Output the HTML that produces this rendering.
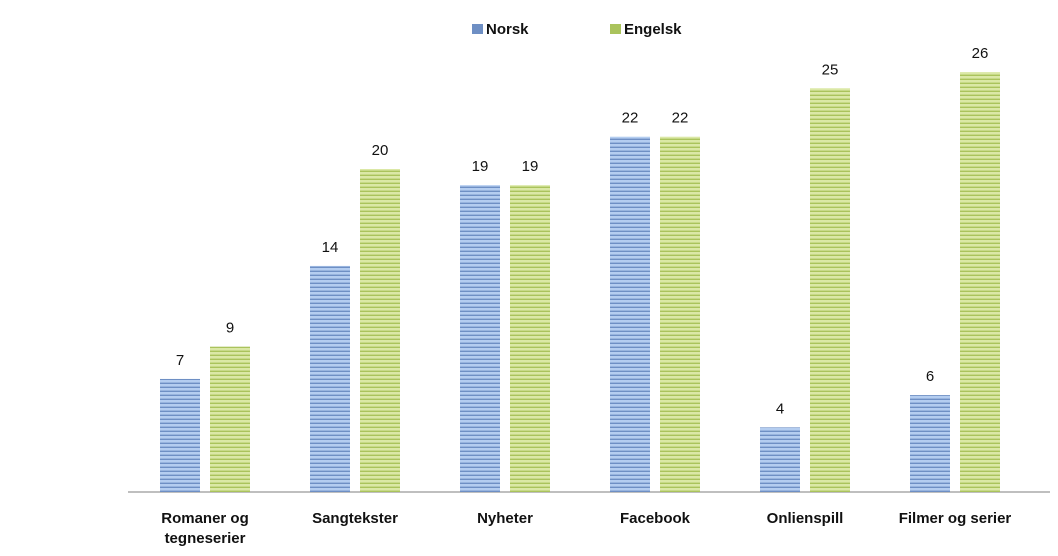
<!DOCTYPE html>
<html><head><meta charset="utf-8"><style>
body{margin:0;background:#fff;font-family:"Liberation Sans",sans-serif;}
svg text{font-family:"Liberation Sans",sans-serif;fill:#111;}
</style></head><body>
<svg width="1058" height="551" xmlns="http://www.w3.org/2000/svg">
<defs>
<pattern id="pb" width="4" height="4" patternUnits="userSpaceOnUse"><rect width="4" height="4" fill="#b4cdf0"/><rect y="2.6" width="4" height="1.4" fill="#6e8fc4"/></pattern>
<pattern id="pg" width="4" height="4" patternUnits="userSpaceOnUse"><rect width="4" height="4" fill="#dbe8a6"/><rect y="2.6" width="4" height="1.4" fill="#aac35c"/></pattern>
</defs>
<g>
<rect x="472" y="24" width="11" height="10" fill="#6e8fc4"/>
<text x="486" y="34" font-size="15" font-weight="bold">Norsk</text>
<rect x="610" y="24" width="11" height="10" fill="#aac35c"/>
<text x="624" y="34" font-size="15" font-weight="bold">Engelsk</text>
</g>
<line x1="128" y1="492" x2="1050" y2="492" stroke="#aaa" stroke-width="1.5"/>
<g id="bars"></g>
</svg>
<script>
const categories=[["Romaner og","tegneserier"],["Sangtekster"],["Nyheter"],["Facebook"],["Onlienspill"],["Filmer og serier"]];
const norsk=[7,14,19,22,4,6];
const engelsk=[9,20,19,22,25,26];
const NS="http://www.w3.org/2000/svg";
const g=document.getElementById('bars');
const base=492, unit=16.15;
const y=v=>base-v*unit;
const cx=i=>205+i*150;
function mk(tag,attrs){const e=document.createElementNS(NS,tag);for(const k in attrs)e.setAttribute(k,attrs[k]);g.appendChild(e);return e;}
categories.forEach((c,i)=>{
  [[norsk,'url(#pb)',-45,'norsk'],[engelsk,'url(#pg)',5,'engelsk']].forEach(([arr,fill,off,nm])=>{
    const v=arr[i];
    const r=mk('rect',{x:cx(i)+off,y:y(v),width:40,height:v*unit,fill:fill});
    
    
    const t=mk('text',{x:cx(i)+off+20,y:y(v)-14,'font-size':15,'text-anchor':'middle'});
    t.textContent=v;
    
    
  });
  c.forEach((line,j)=>{
    const t=mk('text',{x:cx(i),y:523+j*20,'font-size':15,'font-weight':'bold','text-anchor':'middle'});
    t.textContent=line;
    
    
  });
});
</script>
</body></html>
